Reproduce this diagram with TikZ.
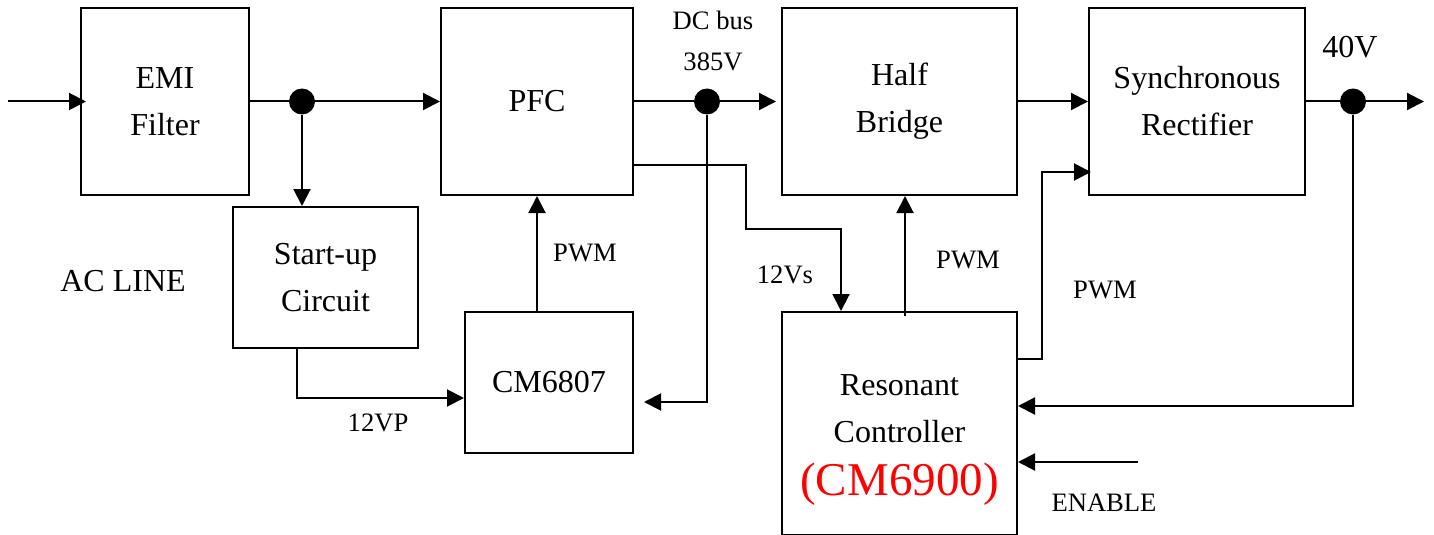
\documentclass[tikz,border=0pt]{standalone}
\usepackage{fontspec}
\setmainfont{Liberation Serif}
\usetikzlibrary{arrows.meta}
\definecolor{cmred}{RGB}{255,0,0}

\begin{document}
\begin{tikzpicture}[
  x=0.5pt, y=-0.5pt,
  font=\fontsize{16}{23.5}\selectfont,
  block/.style ={draw=black, line width=1pt, align=center, inner sep=0pt},
  dot/.style   ={circle, fill=black, inner sep=0pt, minimum size=13pt},
  lbl/.style   ={font=\fontsize{13.3}{16}\selectfont},
  flow/.style  ={-{Triangle[length=8.5pt,width=8.5pt]}, line width=1pt},
  wire/.style  ={line width=1pt},
]
\useasboundingbox (0,0) rectangle (1434,535);

\node[block, minimum width=84pt,    minimum height=93.5pt] (emi)   at (165,101.5)   {EMI\\Filter};
\node[block, minimum width=96pt,    minimum height=93.5pt] (pfc)   at (537,101.5)   {PFC};
\node[block, minimum width=117.5pt, minimum height=93.5pt] (hb)    at (899.5,101.5) {Half\\Bridge};
\node[block, minimum width=108pt,   minimum height=93.5pt] (sr)    at (1197,101.5)  {Synchronous\\Rectifier};
\node[block, minimum width=92.5pt,  minimum height=70.5pt] (start) at (325.5,277.5) {Start-up\\Circuit};
\node[block, minimum width=84pt,    minimum height=70.5pt] (cm)    at (549,382.5)   {CM6807};
\node[block, minimum width=117.5pt, minimum height=111.5pt] (rc)   at (899.5,423.5) {};
\node[align=center] (rctext) at (899.5,440) {Resonant\\Controller\\[3pt]
  {\fontsize{23.5}{27}\selectfont\color{cmred}(CM6900)}};

\node[dot] (d1) at (302,101.5) {};
\node[dot] (d2) at (707,101.5) {};
\node[dot] (d3) at (1353,101.5) {};
\coordinate (acin) at (8,101.5);
\coordinate (out)  at (1424,101.5);
\coordinate (en)   at (1138,462);

\draw[flow, shorten >=-3pt] (acin) -- (emi);
\draw[wire] (emi) -- (d1);
\draw[flow] (d1) -- (pfc);
\draw[flow] (d1) -- (d1 |- start.north);
\draw[flow] ([xshift=-14.25pt]start.south) |- ([yshift=-7.75pt]cm.west);
\draw[flow] (pfc.south |- cm.north) -- (pfc.south);
\draw[wire] (pfc) -- (d2);
\draw[flow, shorten >=2.5pt] (d2) -- (hb);
\draw[flow, shorten >=5pt] (d2) |- ([yshift=-9.75pt]cm.east);
\draw[flow] ([yshift=-31.75pt]pfc.east) -| ++(112,64) -| ([xshift=-29.25pt]rc.north);
\draw[flow] ([xshift=2.75pt,yshift=-2.5pt]rc.north) -- ([xshift=2.75pt]hb.south);
\draw[flow, shorten >=-1.5pt] ([yshift=32.25pt]rc.east) -- ++(24,0) |- ([yshift=-35.25pt]sr.west);
\draw[flow] (hb) -- (sr);
\draw[wire] (sr) -- (d3);
\draw[flow] (d3) -- (out);
\draw[flow] (d3) |- ([yshift=8.75pt]rc.east);
\draw[flow] (en) -- (en -| rc.east);

\node[lbl] (dcbus) at (713,20)  {DC bus};
\node[lbl] (v385)  at (713,62)  {385V};
\node      (v40)   at (1350,47) {40V};
\node      (acl)   at (123,281) {AC LINE};
\node[lbl] (pwm1)  at (585,253) {PWM};
\node[lbl] (pwm2)  at (968,260) {PWM};
\node[lbl] (pwm3)  at (1105,290) {PWM};
\node[lbl] (v12s)  at (785,275) {12Vs};
\node[lbl] (v12p)  at (378,423) {12VP};
\node[lbl] (enl)   at (1104,503) {ENABLE};

\end{tikzpicture}
\end{document}
